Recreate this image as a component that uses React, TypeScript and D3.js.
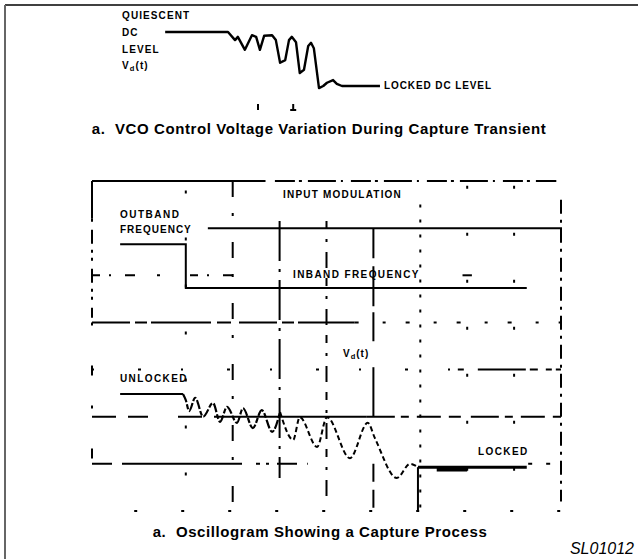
import React, { useRef, useEffect } from "react";
import { select, scaleLinear, line, curveMonotoneX, curveLinear } from "d3";

// ---- data (oscilloscope divisions: t = horizontal div, v = vertical div) ----
// top sketch: t in divisions, v = 1 quiescent level, 0 locked level
const vcoTransient = [
  [1.56, 1.0], [2.9, 1.0], [3.05, 0.85], [3.11, 0.91], [3.26, 0.67], [3.41, 0.94],
  [3.5, 0.91], [3.58, 0.67], [3.67, 0.93], [3.84, 0.94], [3.92, 0.85], [4.01, 0.43],
  [4.12, 0.48], [4.2, 0.85], [4.26, 0.91], [4.35, 0.81], [4.43, 0.24], [4.52, 0.3],
  [4.61, 0.74], [4.67, 0.8], [4.73, 0.7], [4.84, -0.04], [4.93, 0.0], [5.01, 0.06],
  [5.14, 0.11], [5.22, 0.04], [5.33, 0.0], [6.14, 0.0]
];
const vcoMarks = [3.54, 4.29];
const topLabels = ["QUIESCENT", "DC", "LEVEL"];

// bottom oscillogram
const inputStep = [[0.6, 5.66], [2.0, 5.66], [2.0, 4.73], [9.27, 4.73]];
const outbandLine = [[2.47, 6.0], [10, 6.0], [10, 5.85]];
const unlocked = [[0.6, 2.48], [1.94, 2.48]];
const captureEarly = [
  [1.94, 2.48], [2.0, 2.35], [2.07, 2.12], [2.2, 2.4], [2.37, 2.0], [2.58, 2.29],
  [2.73, 1.89], [2.88, 2.21], [3.09, 1.87], [3.22, 2.18], [3.43, 1.76], [3.62, 2.14],
  [3.84, 1.68], [4.01, 2.1]
];
const captureLate = [
  [4.01, 2.1], [4.29, 1.51], [4.43, 1.99], [4.8, 1.36], [5.01, 1.99], [5.5, 1.12],
  [5.88, 1.87], [6.03, 1.55], [6.5, 0.7], [6.78, 1.0], [6.95, 0.93]
];
const locked = [[6.95, 0.93], [9.27, 0.93]];
const lockedHeavy = [[7.35, 0.88], [8.0, 0.88]];
const lockMarker = [[6.95, 0.93], [6.95, 0.0]];
const vdLevel = [[2.75, 2.0], [5.86, 2.0]];

// graticule pieces, drawn broken like the scanned original
const hGrid = [
  { v: 7, a: 0, b: 3.7, dash: "" },
  { v: 7, a: 3.9, b: 9.9, dash: "20,4,3,6,28,5,2,8" },
  { v: 5, a: 0, b: 3.1, dash: "8,9,2,14,10,22,3,30" },
  { v: 5, a: 7.9, b: 8.1, dash: "" },
  { v: 4, a: 0, b: 5.6, dash: "38,5,12,4,60,6,14,8" },
  { v: 4, a: 5.6, b: 10, dash: "4,24,3,20" },
  { v: 3, a: 0, b: 7.8, dash: "2,44,3,40" },
  { v: 3, a: 7.8, b: 10, dash: "6,14,48,4,8,8,6,4" },
  { v: 2, a: 0, b: 2.75, dash: "24,12,20,30" },
  { v: 2, a: 5.86, b: 10, dash: "28,6,8,8,24,8,12,10" },
  { v: 1, a: 0, b: 4.6, dash: "20,10,120,14,4,6,3,8" },
  { v: 1, a: 9.3, b: 10, dash: "4,14" },
  { v: 0, a: 0.9, b: 10, dash: "3,44" }
];
const vGrid = [
  { t: 0, a: 7, b: 6.2, dash: "" },
  { t: 0, a: 6.2, b: 4.1, dash: "3,8,14,6,3,5" },
  { t: 0, a: 4.0, b: 1.0, dash: "3,40,10,30" },
  { t: 2, a: 6.8, b: 0, dash: "3,44" },
  { t: 3, a: 7, b: 0, dash: "16,16,3,26" },
  { t: 4, a: 6.15, b: 0.7, dash: "40,8,3,8" },
  { t: 5, a: 6.15, b: 0.2, dash: "8,10,3,10,16,10" },
  { t: 6, a: 6.0, b: 3.6, dash: "30,8,40,6" },
  { t: 6, a: 3.05, b: 2.0, dash: "" },
  { t: 6, a: 1.0, b: 0, dash: "18,8" },
  { t: 7, a: 6.5, b: 0, dash: "3,12" },
  { t: 8, a: 6.9, b: 0, dash: "3,44" },
  { t: 9, a: 6.9, b: 0, dash: "3,44" },
  { t: 10, a: 6.6, b: 0.2, dash: "14,6,3,6" }
];

const W = 639;
const H = 559;
const FONT = "'Liberation Sans', Arial, sans-serif";

const App = () => {
  const svgRef = useRef(null);

  useEffect(() => {
    const svg = select(svgRef.current);
    svg.selectAll("*").remove();

    const x = scaleLinear().domain([0, 10]).range([92, 561]);
    const y = scaleLinear().domain([0, 7]).range([511, 181]);
    const yTop = scaleLinear().domain([0, 1]).range([86, 32]);

    const path = (yy, curve) =>
      line().x((d) => x(d[0])).y((d) => yy(d[1])).curve(curve);

    // page frame
    svg.append("line").attr("x1", 5).attr("y1", 5).attr("x2", 638).attr("y2", 5)
      .attr("stroke", "#000").attr("stroke-width", 1.5);
    svg.append("line").attr("x1", 5).attr("y1", 5).attr("x2", 5).attr("y2", H)
      .attr("stroke", "#666").attr("stroke-width", 2);

    // ---- top panel ----
    const top = svg.append("g");
    top.append("path").datum(vcoTransient)
      .attr("d", path(yTop, curveLinear))
      .attr("fill", "none").attr("stroke", "#000").attr("stroke-width", 2.4)
      .attr("stroke-linejoin", "round");

    vcoMarks.forEach((t, i) => {
      top.append("line").attr("x1", x(t)).attr("x2", x(t))
        .attr("y1", 104).attr("y2", 110)
        .attr("stroke", "#000").attr("stroke-width", 2);
      if (i === 1) {
        top.append("line").attr("x1", x(t) - 3).attr("x2", x(t) + 3)
          .attr("y1", 110).attr("y2", 110)
          .attr("stroke", "#000").attr("stroke-width", 2);
      }
    });

    const lab = (g, txt, px, py, size, spacing) =>
      g.append("text").attr("x", px).attr("y", py)
        .attr("font-family", FONT)
        .attr("font-weight", "bold").attr("font-size", size)
        .attr("letter-spacing", spacing).attr("fill", "#000").text(txt);

    topLabels.forEach((t, i) => lab(top, t, 122, 19 + i * 17, 10, 1.1));
    const vt = lab(top, "V", 122, 69, 10, 1.1);
    vt.append("tspan").attr("font-size", 7.5).attr("dy", 2).text("d");
    vt.append("tspan").attr("dy", -2).text("(t)");
    lab(top, "LOCKED DC LEVEL", 384, 89, 10, 0.9);

    top.append("text").attr("x", 319).attr("y", 134).attr("text-anchor", "middle")
      .attr("font-family", FONT)
      .attr("font-weight", "bold").attr("font-size", 15)
      .attr("letter-spacing", 0.6)
      .attr("xml:space", "preserve")
      .text("a.  VCO Control Voltage Variation During Capture Transient");

    // ---- bottom oscillogram ----
    const bot = svg.append("g");
    hGrid.forEach((g) => {
      bot.append("line").attr("x1", x(g.a)).attr("x2", x(g.b))
        .attr("y1", y(g.v)).attr("y2", y(g.v))
        .attr("stroke", "#000").attr("stroke-width", 2)
        .attr("stroke-dasharray", g.dash || null);
    });
    vGrid.forEach((g) => {
      bot.append("line").attr("x1", x(g.t)).attr("x2", x(g.t))
        .attr("y1", y(g.a)).attr("y2", y(g.b))
        .attr("stroke", "#000").attr("stroke-width", 2)
        .attr("stroke-dasharray", g.dash || null);
    });

    const solid = [inputStep, outbandLine, unlocked, vdLevel, lockMarker];
    solid.forEach((d) => {
      bot.append("path").datum(d).attr("d", path(y, curveLinear))
        .attr("fill", "none").attr("stroke", "#000").attr("stroke-width", 2)
        .attr("stroke-linejoin", "miter");
    });
    bot.append("path").datum(captureEarly).attr("d", path(y, curveMonotoneX))
      .attr("fill", "none").attr("stroke", "#000").attr("stroke-width", 2.2)
      .attr("stroke-dasharray", "9,2,5,2");
    bot.append("path").datum(captureLate).attr("d", path(y, curveMonotoneX))
      .attr("fill", "none").attr("stroke", "#000").attr("stroke-width", 2)
      .attr("stroke-dasharray", "5,3");
    bot.append("path").datum(locked).attr("d", path(y, curveLinear))
      .attr("fill", "none").attr("stroke", "#000").attr("stroke-width", 3);
    bot.append("path").datum(lockedHeavy).attr("d", path(y, curveLinear))
      .attr("fill", "none").attr("stroke", "#000").attr("stroke-width", 4);

    lab(bot, "INPUT MODULATION", 283, 198, 10, 1.2);
    lab(bot, "OUTBAND", 120, 218, 10, 1.5);
    lab(bot, "FREQUENCY", 120, 233, 10, 1.0);
    lab(bot, "INBAND FREQUENCY", 293, 278, 10, 1.4);
    const vd = lab(bot, "V", 343, 357, 10, 1);
    vd.append("tspan").attr("font-size", 7.5).attr("dy", 2).text("d");
    vd.append("tspan").attr("dy", -2).text("(t)");
    lab(bot, "UNLOCKED", 120, 382, 10, 1.4);
    lab(bot, "LOCKED", 478, 455, 10, 1.4);

    bot.append("text").attr("x", 320).attr("y", 537).attr("text-anchor", "middle")
      .attr("font-family", FONT)
      .attr("font-weight", "bold").attr("font-size", 15)
      .attr("letter-spacing", 0.6)
      .attr("xml:space", "preserve")
      .text("a.  Oscillogram Showing a Capture Process");

    svg.append("text").attr("x", 634).attr("y", 554).attr("text-anchor", "end")
      .attr("font-family", FONT)
      .attr("font-style", "italic").attr("font-size", 16)
      .text("SL01012");
  }, []);

  return (
    <svg
      ref={svgRef}
      width={W}
      height={H}
      style={{ position: "absolute", left: 0, top: 0, background: "#fff" }}
    />
  );
};

export default App;
